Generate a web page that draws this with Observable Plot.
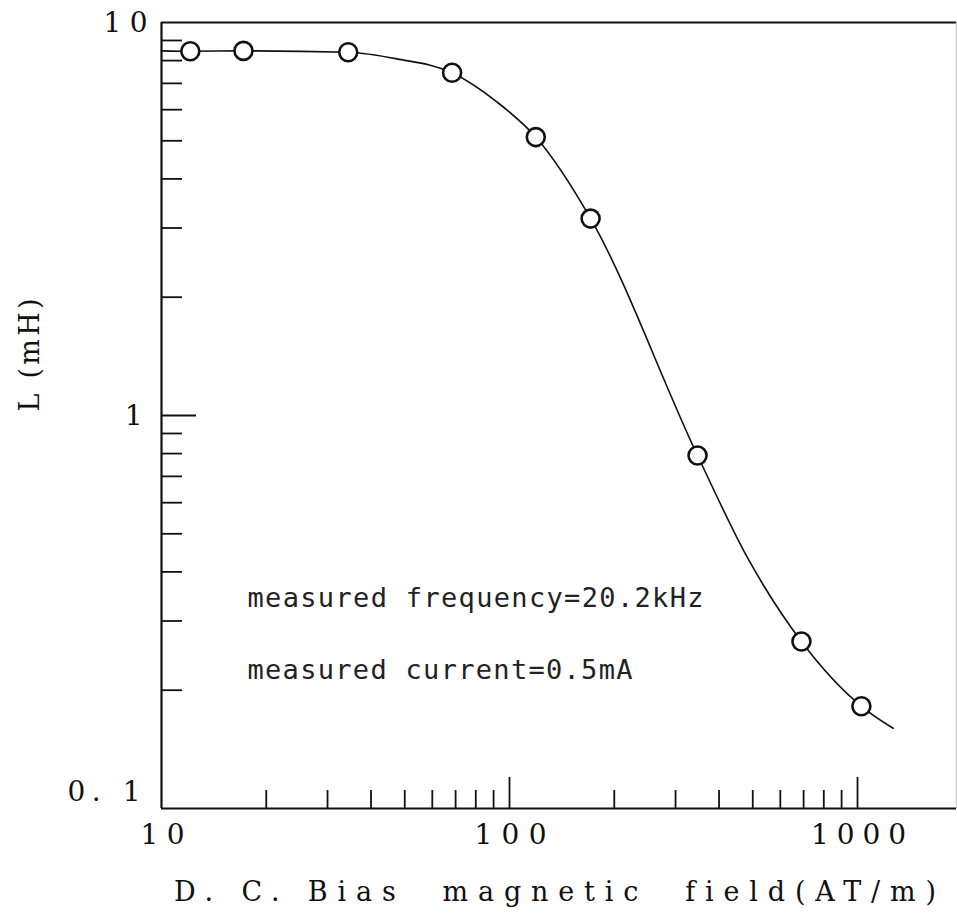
<!DOCTYPE html>
<html>
<head>
<meta charset="utf-8">
<script src="https://cdn.jsdelivr.net/npm/d3@7"></script>
<script src="https://cdn.jsdelivr.net/npm/@observablehq/plot@0.6"></script>
<style>
  html, body { margin: 0; padding: 0; background: #fff; }
  #chart svg { display: block; }
  #chart text { font-variant-ligatures: none; font-feature-settings: "liga" 0, "clig" 0; }
</style>
</head>
<body>
<div id="chart"></div>
<script>
// measured points
const fieldAT = [12.1, 17.2, 34.4, 68.4, 119, 171, 347, 690, 1026];
const inductanceMH = [8.45, 8.47, 8.40, 7.45, 5.11, 3.17, 0.791, 0.266, 0.182];

// hand-drawn fit curve
const curveField = [10, 12.1, 17.2, 34.4, 47.5, 68.4, 92.2, 119, 171, 347, 482, 690, 1026, 1266];
const curveL = [8.47, 8.45, 8.47, 8.40, 8.08, 7.45, 6.27, 5.11, 3.17, 0.791, 0.436, 0.266, 0.182, 0.160];

// ticks
const yMinorTicks = [0.2, 0.3, 0.4, 0.5, 0.6, 0.7, 0.8, 0.9, 2, 3, 4, 5, 6, 7, 8, 9];
const yMajorTicks = [1];
const xMinorTicks = [20, 30, 40, 50, 60, 70, 80, 90, 200, 300, 400, 500, 600, 700, 800, 900];
const xMajorTicks = [100, 1000];

const yTickValues = [10, 1, 0.1];
const yTickLabels = ["1 0", "1", "0. 1"];
const xTickValues = [10, 100, 1000];
const xTickLabels = ["1 0", "1 0 0", "1 0 0 0"];

const xTitle = "D. C. Bias  magnetic  field(AT/m)";
const yTitle = "L (mH)";
const notes = ["measured frequency=20.2kHz", "measured current=0.5mA"];

const points = fieldAT.map((x, i) => ({x, y: inductanceMH[i]}));
const curve = curveField.map((x, i) => ({x, y: curveL[i]}));

const W = 957, H = 917;
const mL = 161, mR = 1, mT = 22, mB = 109;
const pw = W - mL - mR, ph = H - mT - mB;
const xMax = 1925;

const serif = "'DejaVu Serif', 'Liberation Serif', serif";
const mono = "'DejaVu Sans Mono', 'Liberation Mono', monospace";

const yLabelData = yTickValues.map((v, i) => ({v, t: yTickLabels[i]}));

const chart = Plot.plot({
  width: W, height: H,
  marginLeft: mL, marginRight: mR, marginTop: mT, marginBottom: mB,
  x: {type: "log", domain: [10, xMax], axis: null},
  y: {type: "log", domain: [0.1, 10], axis: null},
  style: {background: "#fff", color: "#111", overflow: "visible"},
  marks: [
    // frame
    Plot.ruleY([10, 0.1], {stroke: "#111", strokeWidth: 2.2}),
    Plot.ruleX([10], {stroke: "#111", strokeWidth: 2.2}),
    Plot.ruleX([xMax], {stroke: "#ccc", strokeWidth: 1.5}),
    // inward ticks
    Plot.tickY(yMinorTicks, {y: d => d, stroke: "#111", strokeWidth: 1.8, insetRight: pw - 21}),
    Plot.tickY(yMajorTicks, {y: d => d, stroke: "#111", strokeWidth: 1.8, insetRight: pw - 35}),
    Plot.tickX(xMinorTicks, {x: d => d, stroke: "#111", strokeWidth: 1.8, insetTop: ph - 18}),
    Plot.tickX(xMajorTicks, {x: d => d, stroke: "#111", strokeWidth: 1.8, insetTop: ph - 31}),
    // tick labels
    Plot.text(yLabelData.filter(d => d.v === 10), {x: () => 10, y: "v", text: "t", textAnchor: "end", dx: -14, dy: 1, fontFamily: serif, fontSize: 28, fill: "#111"}),
    Plot.text(yLabelData.filter(d => d.v === 1), {x: () => 10, y: "v", text: "t", textAnchor: "end", dx: -19, dy: 1, fontFamily: serif, fontSize: 28, fill: "#111"}),
    Plot.text(yLabelData.filter(d => d.v === 0.1), {x: () => 10, y: "v", text: "t", textAnchor: "end", dx: -21, dy: -16, fontFamily: serif, fontSize: 28, fill: "#111"}),
    Plot.text(xTickValues, {x: d => d, y: () => 0.1, text: (d, i) => xTickLabels[i], textAnchor: "middle", dx: 1, dy: 27, fontFamily: serif, fontSize: 28, fill: "#111"}),
    // axis titles
    Plot.text([xTitle], {frameAnchor: "bottom", text: d => d, dx: -4, dy: 92, fontFamily: serif, fontSize: 27, fill: "#111"}),
    Plot.text([yTitle], {frameAnchor: "left", text: d => d, rotate: -90, dx: -131, dy: -4, fontFamily: serif, fontSize: 27, fill: "#111"}),
    // annotations
    Plot.text([notes[0]], {frameAnchor: "left", text: d => d, textAnchor: "start", dx: 86, dy: 183, fontFamily: mono, fontSize: 27, fill: "#222"}),
    Plot.text([notes[1]], {frameAnchor: "left", text: d => d, textAnchor: "start", dx: 86, dy: 255, fontFamily: mono, fontSize: 27, fill: "#222"}),
    // curve and points
    Plot.line(curve, {x: "x", y: "y", curve: "monotone-x", stroke: "#111", strokeWidth: 1.6}),
    Plot.dot(points, {x: "x", y: "y", r: 9, fill: "white", stroke: "#111", strokeWidth: 2.6})
  ]
});

// letter-spaced typesetting like the original
const widths = {
  "1 0": 44, "0. 1": 73, "1 0 0": 72, "1 0 0 0": 95,
  [xTitle]: 762, [yTitle]: 113,
  [notes[0]]: 456, [notes[1]]: 385
};
d3.select(chart).selectAll("text").each(function() {
  const t = this.textContent;
  if (widths[t]) {
    this.setAttribute("textLength", widths[t]);
    this.setAttribute("lengthAdjust", "spacing");
  }
  this.setAttribute("xml:space", "preserve");
  this.style.whiteSpace = "pre";
  this.style.fontVariantLigatures = "none";
});

document.getElementById("chart").appendChild(chart);
</script>
</body>
</html>
